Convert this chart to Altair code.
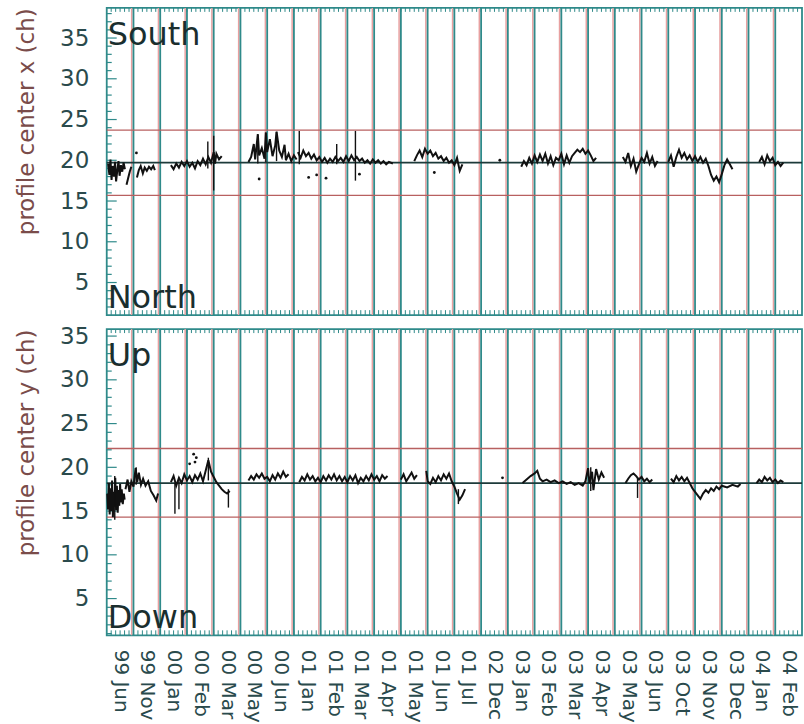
import altair as alt
import pandas as pd

# ---------------- labels ----------------
X_LABELS = ["99 Jun", "99 Nov", "00 Jan", "00 Feb", "00 Mar", "00 May", "00 Jun",
            "01 Jan", "01 Feb", "01 Mar", "01 Apr", "01 May", "01 Jun", "01 Jul",
            "02 Dec", "03 Jan", "03 Feb", "03 Mar", "03 Apr", "03 May", "03 Jun",
            "03 Oct", "03 Nov", "03 Dec", "04 Jan", "04 Feb"]
Y_TICKS = [5, 10, 15, 20, 25, 30, 35]

# reference lines (center, lower, upper)
TOP_REF = [19.7, 15.7, 23.7]
BOT_REF = [18.2, 14.3, 22.15]

# ---------------- top panel traces: profile center x ----------------
TA_X = [0.05, 0.1, 0.14, 0.18, 0.22, 0.27, 0.31, 0.35, 0.4, 0.44, 0.48, 0.53, 0.58, 0.63, 0.68]
TA_Y = [19.6, 18.2, 20.1, 17.6, 19.3, 18.0, 19.8, 17.4, 18.9, 19.9, 18.1, 19.4, 18.6, 19.7, 18.9]
TB_X = [0.74, 0.8, 0.86, 0.92]
TB_Y = [17.0, 17.8, 18.6, 19.2]
TC_X = [1.13, 1.2, 1.27, 1.35, 1.42, 1.5, 1.58, 1.66, 1.74, 1.8]
TC_Y = [17.9, 18.8, 19.3, 18.4, 19.1, 18.7, 19.2, 18.9, 19.3, 18.8]
TD_X = [2.4, 2.5, 2.6, 2.7, 2.8, 2.9, 3.0, 3.1, 3.2, 3.3, 3.4, 3.5, 3.6, 3.7, 3.8, 3.9, 4.0, 4.05, 4.1, 4.2, 4.3]
TD_Y = [19.4, 18.9, 19.6, 19.1, 19.8, 19.3, 19.9, 19.2, 19.7, 19.0, 19.9, 19.4, 20.2, 19.5, 20.4, 19.7, 21.0, 19.6, 20.8, 20.1, 20.5]
TE_X = [5.3, 5.4, 5.5, 5.55, 5.65, 5.7, 5.8, 5.9, 5.95, 6.0, 6.1, 6.2, 6.3, 6.35, 6.45, 6.55, 6.65, 6.7, 6.8, 6.9, 7.0, 7.1]
TE_Y = [19.8, 20.4, 22.0, 20.1, 23.2, 20.6, 21.5, 20.2, 23.4, 21.0, 22.6, 20.5, 21.8, 23.5, 21.2, 20.4, 21.9, 20.0, 20.8, 19.9, 20.6, 20.1]
TG_X = [7.15, 7.25, 7.35, 7.45, 7.55, 7.65, 7.75, 7.85, 7.95, 8.05, 8.15, 8.25, 8.35, 8.45, 8.55, 8.65,
        8.75, 8.85, 8.95, 9.05, 9.15, 9.25, 9.35, 9.45, 9.55, 9.65, 9.75, 9.85, 9.95, 10.05, 10.15,
        10.25, 10.35, 10.45, 10.55, 10.7]
TG_Y = [21.0, 20.3, 21.2, 20.5, 20.9, 20.2, 20.7, 20.0, 20.4, 19.8, 20.3, 19.7, 20.2, 19.8, 20.4, 19.9,
        20.3, 19.8, 20.5, 19.9, 20.6, 20.0, 20.4, 19.9, 20.2, 19.7, 20.0, 19.6, 20.1, 19.7, 20.0,
        19.6, 19.9, 19.5, 19.8, 19.6]
TH_X = [11.5, 11.6, 11.7, 11.8, 11.9, 12.0, 12.1, 12.2, 12.3, 12.4, 12.5, 12.6, 12.7, 12.8, 12.9, 13.0, 13.1, 13.2, 13.3]
TH_Y = [19.9, 20.6, 21.2, 20.4, 21.4, 20.8, 21.2, 20.5, 20.9, 20.2, 20.5, 19.9, 20.3, 19.7, 20.0, 19.4, 20.3, 18.7, 19.5]
TJ_X = [15.5, 15.6, 15.7, 15.8, 15.9, 16.0, 16.1, 16.2, 16.3, 16.4, 16.5, 16.6, 16.7, 16.8, 16.9,
        17.0, 17.1, 17.2, 17.3, 17.4, 17.5, 17.6, 17.7, 17.8, 17.9, 18.0, 18.1, 18.2, 18.3]
TJ_Y = [19.2, 19.9, 19.4, 20.3, 19.6, 20.6, 19.8, 20.7, 19.9, 20.8, 19.6, 20.5, 19.4, 20.3, 20.0,
        20.8, 19.5, 20.6, 19.7, 20.5, 20.9, 21.3, 21.0, 21.4, 20.8, 21.2, 20.6, 19.9, 20.3]
TK_X = [19.3, 19.4, 19.5, 19.6, 19.7, 19.8, 19.9, 20.0, 20.1, 20.2, 20.3, 20.4, 20.5, 20.6]
TK_Y = [20.4, 19.8, 20.9, 19.3, 20.2, 18.6, 19.5, 20.3, 19.8, 20.9, 19.6, 20.4, 19.3, 19.9]
TL_X = [21.0, 21.1, 21.2, 21.3, 21.4, 21.5, 21.6, 21.7, 21.8, 21.9, 22.0, 22.1, 22.2, 22.3, 22.4,
        22.5, 22.6, 22.7, 22.8, 22.9, 23.0, 23.1, 23.2, 23.3, 23.4]
TL_Y = [19.8, 20.6, 19.2, 20.4, 21.3, 20.3, 20.9, 20.1, 20.6, 19.9, 20.5, 19.8, 20.4, 19.7, 20.2,
        19.3, 18.2, 17.5, 18.0, 17.3, 18.3, 19.4, 20.1, 19.5, 18.9]
TM_X = [24.4, 24.5, 24.6, 24.7, 24.8, 24.9, 25.0, 25.1, 25.2, 25.3]
TM_Y = [19.8, 20.4, 19.5, 20.6, 19.9, 20.3, 19.4, 19.8, 19.3, 19.7]

TOP_SPIKE_X = [4.0, 3.78, 7.2, 9.3, 5.95, 6.35, 5.65, 8.6]
TOP_SPIKE_LO = [16.3, 19.0, 19.5, 17.5, 19.8, 19.9, 19.6, 19.5]
TOP_SPIKE_HI = [23.0, 22.3, 23.6, 23.6, 23.4, 23.5, 23.2, 22.0]
TOP_DOT_X = [1.11, 5.7, 7.55, 7.85, 8.2, 9.45, 12.25, 14.7]
TOP_DOT_Y = [20.9, 17.7, 17.9, 18.2, 17.8, 18.3, 18.5, 20.0]

# ---------------- bottom panel traces: profile center y ----------------
BA_X = [0.02, 0.05, 0.08, 0.11, 0.14, 0.17, 0.2, 0.23, 0.26, 0.29, 0.32, 0.35, 0.38, 0.41, 0.44,
        0.47, 0.5, 0.53, 0.56, 0.6, 0.64, 0.67]
BA_Y = [17.0, 15.2, 18.2, 14.6, 17.6, 15.0, 18.5, 14.3, 17.2, 15.5, 18.8, 15.1, 17.9, 14.8, 17.4,
        15.6, 18.1, 16.0, 17.5, 15.8, 17.0, 16.3]
BB_X = [0.7, 0.78, 0.85, 0.92, 1.0, 1.08, 1.14, 1.2, 1.28, 1.36, 1.45, 1.55, 1.65, 1.75, 1.85, 1.92]
BB_Y = [17.5, 18.6, 17.2, 18.4, 17.8, 19.9, 18.3, 19.4, 18.0, 18.7, 17.9, 18.4, 17.3, 16.8, 16.2, 17.0]
BC_X = [2.4, 2.5, 2.6, 2.7, 2.8, 2.9, 3.0, 3.1, 3.2, 3.3, 3.4, 3.5, 3.6, 3.7, 3.8, 3.9, 4.0, 4.1,
        4.2, 4.3, 4.4, 4.5, 4.6]
BC_Y = [18.3, 19.0, 17.9, 18.8, 18.2, 19.2, 18.5, 19.0, 18.3, 19.1, 18.6, 19.3, 18.4, 19.6, 20.8,
        19.5, 18.9, 18.3, 17.9, 17.5, 17.2, 17.0, 17.3]
BD_X = [5.3, 5.4, 5.5, 5.6, 5.7, 5.8, 5.9, 6.0, 6.1, 6.2, 6.3, 6.4, 6.5, 6.6, 6.7, 6.8]
BD_Y = [18.5, 19.0, 18.6, 19.2, 18.8, 19.3, 18.7, 18.9, 18.4, 19.1, 18.6, 19.3, 18.8, 19.5, 18.9, 19.2]
BE_X = [7.2, 7.3, 7.4, 7.5, 7.6, 7.7, 7.8, 7.9, 8.0, 8.1, 8.2, 8.3, 8.4, 8.5, 8.6, 8.7, 8.8, 8.9,
        9.0, 9.1, 9.2, 9.3, 9.4, 9.5, 9.6, 9.7, 9.8, 9.9, 10.0, 10.1, 10.2, 10.3, 10.4, 10.5]
BE_Y = [18.3, 18.9, 18.5, 19.2, 18.6, 19.0, 18.4, 18.8, 18.3, 19.0, 18.5, 19.1, 18.6, 19.2, 18.5,
        19.0, 18.4, 18.9, 18.3, 19.0, 18.5, 19.1, 18.2, 18.8, 18.4, 19.0, 18.5, 19.2, 18.6, 19.0,
        18.4, 19.1, 18.7, 19.0]
BF_X = [11.0, 11.1, 11.2, 11.3, 11.4, 11.5, 11.6]
BF_Y = [18.6, 19.2, 18.4, 18.9, 19.4, 18.7, 19.1]
BG_X = [11.95, 12.0, 12.1, 12.2, 12.3, 12.4, 12.5, 12.6, 12.7, 12.8, 12.9, 13.0, 13.1, 13.2, 13.3, 13.4]
BG_Y = [19.6, 18.4, 18.1, 18.8, 18.3, 19.0, 18.5, 19.2, 18.7, 19.3, 18.4, 17.8, 17.0, 16.3, 16.8, 17.5]
BH_X = [15.55, 15.7, 15.85, 16.0, 16.1, 16.2, 16.3, 16.45, 16.6, 16.75, 16.9, 17.05, 17.2, 17.35,
        17.5, 17.65, 17.8, 17.9, 18.0, 18.05, 18.15, 18.2, 18.3, 18.4, 18.5, 18.6]
BH_Y = [18.2, 18.6, 19.0, 19.3, 19.6, 18.7, 18.4, 18.6, 18.3, 18.5, 18.2, 18.4, 18.1, 18.3,
        18.0, 18.2, 17.9, 18.4, 19.9, 18.2, 19.5, 17.4, 19.8, 18.6, 19.4, 18.8]
BI_X = [19.4, 19.5, 19.6, 19.7, 19.8, 19.9, 20.0, 20.1, 20.2, 20.3, 20.4]
BI_Y = [18.2, 18.7, 19.1, 19.3, 19.0, 18.6, 18.9, 18.4, 18.7, 18.3, 18.6]
BJ_X = [21.1, 21.2, 21.3, 21.4, 21.5, 21.6, 21.7, 21.8, 21.9, 22.0, 22.1, 22.2, 22.3, 22.4, 22.5,
        22.6, 22.7, 22.8, 22.9, 23.0, 23.2, 23.4, 23.6, 23.7]
BJ_Y = [18.7, 18.3, 19.0, 18.5, 18.9, 18.4, 18.8, 18.2, 17.6, 17.2, 16.8, 16.4, 17.0, 17.4, 17.1,
        17.6, 17.3, 17.8, 17.5, 17.9, 17.7, 18.0, 17.8, 18.1]
BK_X = [24.3, 24.4, 24.5, 24.6, 24.7, 24.8, 24.9, 25.0, 25.1, 25.2, 25.3]
BK_Y = [18.2, 18.6, 18.3, 18.9, 18.5, 18.8, 18.3, 18.6, 18.2, 18.5, 18.3]

BOT_SPIKE_X = [2.55, 2.7, 3.8, 4.55, 1.1, 19.85, 18.1, 13.15, 0.3]
BOT_SPIKE_LO = [14.7, 15.2, 18.5, 15.4, 18.0, 16.5, 17.3, 15.8, 14.0]
BOT_SPIKE_HI = [18.2, 18.4, 21.1, 17.5, 20.0, 18.8, 20.0, 17.5, 19.0]
BOT_DOT_X = [3.25, 3.3, 3.35, 3.1, 14.8]
BOT_DOT_Y = [21.5, 20.6, 21.1, 20.4, 18.8]

TOP_SEGS = [(TA_X, TA_Y), (TB_X, TB_Y), (TC_X, TC_Y), (TD_X, TD_Y), (TE_X, TE_Y), (TG_X, TG_Y),
            (TH_X, TH_Y), (TJ_X, TJ_Y), (TK_X, TK_Y), (TL_X, TL_Y), (TM_X, TM_Y)]
BOT_SEGS = [(BA_X, BA_Y), (BB_X, BB_Y), (BC_X, BC_Y), (BD_X, BD_Y), (BE_X, BE_Y), (BF_X, BF_Y),
            (BG_X, BG_Y), (BH_X, BH_Y), (BI_X, BI_Y), (BJ_X, BJ_Y), (BK_X, BK_Y)]

# ---------------- style ----------------
FONT = "DejaVu Sans"
TEAL = "#2f8a8a"
PINK = "#e8a0a0"
TEXT = "#2a4a4c"
TITLE_C = "#7a4c4a"
REDLINE = "#b86060"
W = 697
N = len(X_LABELS)
X_DOMAIN = [0, N]
BOUNDS = list(range(1, N))
LEFT_TICKS = list(range(1, 39))
EDGE_TICKS = [i / 6 for i in range(1, 6 * N)]


def seg_frame(segs):
    rows = []
    for s, (xs, ys) in enumerate(segs):
        for i, (x, y) in enumerate(zip(xs, ys)):
            rows.append({"seg": s, "i": i, "x": x, "y": y})
    return pd.DataFrame(rows)


def panel(segs, spx, splo, sphi, dx, dy, ref, ydom, h, title, top_word, bot_word, show_x):
    xs = alt.Scale(domain=X_DOMAIN, nice=False, zero=False)
    ys = alt.Scale(domain=ydom, nice=False, zero=False)
    label_expr = "[" + ",".join("'%s'" % l for l in X_LABELS) + "][floor(datum.value)]"
    if show_x:
        xaxis = alt.Axis(values=[i + 0.5 for i in range(N)], labelExpr=label_expr, labelAngle=90,
                         labelAlign="left", labelBaseline="middle", labelFont=FONT, labelFontSize=20,
                         labelColor=TEXT, labelPadding=14, ticks=False, domain=False, grid=False,
                         title=None, labelOverlap=False, labelBound=False)
    else:
        xaxis = None
    yaxis = alt.Axis(values=Y_TICKS, labelFont=FONT, labelFontSize=23, labelColor=TEXT,
                     labelPadding=18, ticks=False, domain=False, grid=False, title=title,
                     titleFont=FONT, titleFontSize=23, titleFontWeight="normal", titleColor=TITLE_C,
                     titleAnchor="end", titlePadding=21)

    def X(f):
        return alt.X(f, scale=xs, axis=xaxis, title=None)

    def Y(f):
        return alt.Y(f, scale=ys, axis=yaxis, title=title)

    bdf = pd.DataFrame({"b": BOUNDS})
    vpink = alt.Chart(bdf).mark_rule(color=PINK, strokeWidth=1.5, xOffset=-1.8).encode(x=X("b:Q"))
    vteal = alt.Chart(bdf).mark_rule(color=TEAL, strokeWidth=1.8).encode(x=X("b:Q"))

    rdf = pd.DataFrame({"v": ref[1:]})
    hred = alt.Chart(rdf).mark_rule(color=REDLINE, strokeWidth=1.3).encode(y=Y("v:Q"))
    hmid = alt.Chart(pd.DataFrame({"v": ref[:1]})).mark_rule(color="#1d3a3a", strokeWidth=1.7).encode(
        y=Y("v:Q"))

    lt = [t for t in LEFT_TICKS if ydom[0] < t < ydom[1]]
    lt_minor = alt.Chart(pd.DataFrame({"t": [t for t in lt if t % 5]})).mark_rule(
        color=TEAL, strokeWidth=1.2).encode(y=Y("t:Q"), x=alt.value(0), x2=alt.value(5))
    lt_major = alt.Chart(pd.DataFrame({"t": [t for t in lt if t % 5 == 0]})).mark_rule(
        color=TEAL, strokeWidth=1.2).encode(y=Y("t:Q"), x=alt.value(0), x2=alt.value(10))
    edf = pd.DataFrame({"e": EDGE_TICKS})
    bt = alt.Chart(edf).mark_rule(color=TEAL, strokeWidth=1).encode(
        x=X("e:Q"), y=alt.value(h), y2=alt.value(h - 5))
    tt = alt.Chart(edf).mark_rule(color=TEAL, strokeWidth=1).encode(
        x=X("e:Q"), y=alt.value(0), y2=alt.value(4))

    sdf = seg_frame(segs)
    lines = alt.Chart(sdf).mark_line(color="#111111", strokeWidth=2.0).encode(
        x=X("x:Q"), y=Y("y:Q"), detail="seg:N", order="i:Q")
    spdf = pd.DataFrame({"x": spx, "lo": splo, "hi": sphi})
    spikes = alt.Chart(spdf).mark_rule(color="#111111", strokeWidth=1.4).encode(
        x=X("x:Q"), y=Y("lo:Q"), y2="hi:Q")
    ddf = pd.DataFrame({"x": dx, "y": dy})
    dots = alt.Chart(ddf).mark_circle(color="#111111", size=8, opacity=1).encode(x=X("x:Q"), y=Y("y:Q"))

    tw = alt.Chart(pd.DataFrame({"w": [top_word]})).mark_text(
        font=FONT, fontSize=32, color="#1a2e2e", align="left", baseline="alphabetic").encode(
        text="w:N", x=alt.value(1), y=alt.value(37))
    bw = alt.Chart(pd.DataFrame({"w": [bot_word]})).mark_text(
        font=FONT, fontSize=32, color="#1a2e2e", align="left", baseline="alphabetic").encode(
        text="w:N", x=alt.value(1), y=alt.value(h - 7))

    return alt.layer(vpink, vteal, hred, hmid, lt_minor, lt_major, bt, tt,
                     lines, spikes, dots, tw, bw).properties(width=W, height=h)


top = panel(TOP_SEGS, TOP_SPIKE_X, TOP_SPIKE_LO, TOP_SPIKE_HI, TOP_DOT_X, TOP_DOT_Y, TOP_REF,
            [1.0, 38.7], 308, "profile center x (ch)", "South", "North", False)
bot = panel(BOT_SEGS, BOT_SPIKE_X, BOT_SPIKE_LO, BOT_SPIKE_HI, BOT_DOT_X, BOT_DOT_Y, BOT_REF,
            [0.8, 35.8], 307, "profile center y (ch)", "Up", "Down", True)

chart = alt.vconcat(top, bot, spacing=14, bounds="flush").properties(
    padding={"left": 14, "top": 5, "right": 0, "bottom": 0},
    background="white",
).configure_view(stroke=TEAL, strokeWidth=1.8).configure_concat(spacing=14)

chart.save("out.html", embed_options={"renderer": "svg", "actions": False})
